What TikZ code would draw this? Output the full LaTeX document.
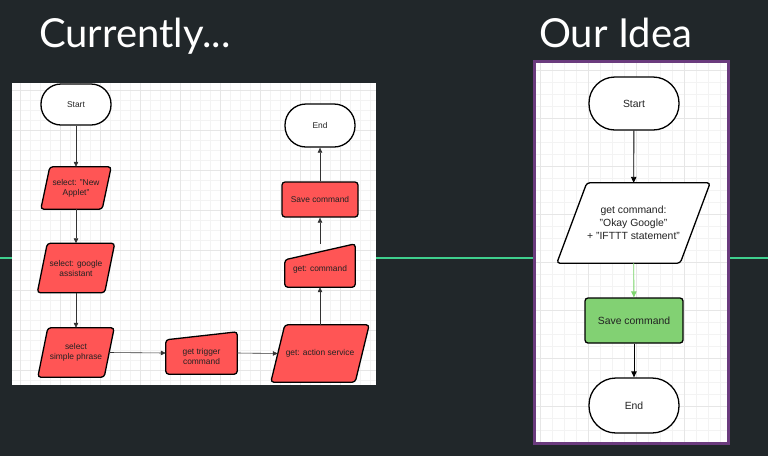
\documentclass[tikz,border=0pt]{standalone}
\usepackage{fontspec}
\setmainfont{Liberation Sans}
\newfontfamily\titlefont{Lato}
\usetikzlibrary{calc,arrows.meta}
\definecolor{bgdark}{HTML}{21272A}
\definecolor{mint}{HTML}{3FCF8E}
\definecolor{frame}{HTML}{6B3B7E}
\definecolor{redfill}{HTML}{FF5555}
\definecolor{greenfill}{HTML}{82D173}
\definecolor{greenarrow}{HTML}{7FD66F}
\definecolor{gridminor}{HTML}{F3F3F3}
\definecolor{gridmajor}{HTML}{E6E6E6}
\definecolor{txt}{HTML}{222222}
\tikzset{
  box/.style={draw=none,inner sep=0pt,align=center,text=txt,font=\fontsize{8.4}{10}\selectfont},
  bigbox/.style={box,font=\fontsize{10.4}{13}\selectfont},
  outline/.style={draw=black,line width=1.3pt,rounded corners=3pt},
  conn/.style={draw=black!80,line width=0.6pt,-{Triangle[length=5pt,width=4.5pt]}},
  bigconn/.style={draw=black,line width=0.9pt,-{Triangle[length=6pt,width=5.5pt]}},
  title/.style={text=white,font=\titlefont\fontsize{40}{40}\selectfont,anchor=base west,inner sep=0pt},
  gminor/.style={draw=gridminor,line width=0.5pt},
  gmajor/.style={draw=gridmajor,line width=0.5pt},
}
\begin{document}
\begin{tikzpicture}[x=1pt,y=-1pt]
\fill[bgdark] (0,0) rectangle (768,456);
\useasboundingbox (0,0) rectangle (768,456);
% horizontal mint line
\draw[mint,line width=1.6pt] (0,258) -- (768,258);
% titles
\node[title] (t1) at (39,47) {Currently...};
\node[title] (t2) at (539,47) {Our Idea};
% left panel
\fill[white] (12,83) rectangle (376,385);
\foreach \x in {20,30,...,370} {\draw[gminor] (\x,83) -- (\x,385);}
\foreach \y in {90,100,...,380} {\draw[gminor] (12,\y) -- (376,\y);}
\foreach \x in {20,60,...,370} {\draw[gmajor] (\x,83) -- (\x,385);}
\foreach \y in {90,130,...,380} {\draw[gmajor] (12,\y) -- (376,\y);}
% right panel
\fill[white] (534,61) rectangle (728,443);
\foreach \x in {540,552,...,726} {\draw[gminor] (\x,61) -- (\x,443);}
\foreach \y in {70,82,...,440} {\draw[gminor] (534,\y) -- (728,\y);}
\foreach \x in {540,588,...,726} {\draw[gmajor] (\x,61) -- (\x,443);}
\foreach \y in {70,118,...,440} {\draw[gmajor] (534,\y) -- (728,\y);}
\draw[frame,line width=3pt] (534,61) rectangle (728,443);

% ---------- left flowchart ----------
\node[box,minimum width=70pt,minimum height=41pt,draw=black,line width=1.3pt,rounded corners=20pt,fill=white] (ls) at (76,104.5) {Start};
\node[box,minimum width=70pt,minimum height=42pt] (la) at (76,188) {};
\fill[redfill,outline] (la.south west) -- ($(la.south east)+(-9,0)$) -- (la.north east) -- ($(la.north west)+(9,0)$) -- cycle;
\node[box] at (la) {select: "New\\Applet"};
\node[box,minimum width=77pt,minimum height=49pt] (lg) at (76,268) {};
\fill[redfill,outline] (lg.south west) -- ($(lg.south east)+(-10,0)$) -- (lg.north east) -- ($(lg.north west)+(10,0)$) -- cycle;
\node[box] at (lg) {select: google\\assistant};
\node[box,minimum width=76pt,minimum height=49pt] (lp) at (76,352.5) {};
\fill[redfill,outline] (lp.south west) -- ($(lp.south east)+(-10,0)$) -- (lp.north east) -- ($(lp.north west)+(10,0)$) -- cycle;
\node[box] at (lp) {select\\simple phrase};
\node[box,minimum width=71pt,minimum height=42pt] (lt) at (201.5,353) {};
\fill[redfill,outline] (lt.south west) -- (lt.south east) -- (lt.north east) -- ($(lt.north west)+(0,8)$) -- cycle;
\node[box] at ($(lt)+(0,3)$) {get trigger\\command};
\node[box,minimum width=98pt,minimum height=57pt] (lv) at (320,353.5) {};
\fill[redfill,outline] (lv.south west) -- ($(lv.south east)+(-14,0)$) -- (lv.north east) -- ($(lv.north west)+(14,0)$) -- cycle;
\node[box] at (lv) {get: action service};
\node[box,minimum width=70pt,minimum height=43pt] (lc) at (320,265.5) {};
\fill[redfill,outline] (lc.south west) -- (lc.south east) -- (lc.north east) -- ($(lc.north west)+(0,16)$) -- cycle;
\node[box] at ($(lc)+(0,4)$) {get: command};
\node[box,minimum width=76pt,minimum height=35pt,fill=redfill,outline] (lsv) at (320,199.5) {Save command};
\node[box,minimum width=70pt,minimum height=43pt,draw=black,line width=1.3pt,rounded corners=21pt,fill=white] (le) at (320,125.5) {End};
\draw[conn] (ls) -- (la);
\draw[conn] (la) -- (lg);
\draw[conn] (lg) -- (lp);
\draw[conn] ($(lp.east)+(-5,0)$) -- (lt.west);
\draw[conn] (lt.east) -- ($(lv.west)+(7,0)$);
\draw[conn] (lv) -- (lc);
\draw[conn] (lc) -- (lsv);
\draw[conn] (lsv) -- (le);

% ---------- right flowchart ----------
\node[bigbox,minimum width=90pt,minimum height=53pt,draw=black,line width=1.3pt,rounded corners=26pt,fill=white] (rs) at (634,103.5) {Start};
\node[bigbox,minimum width=153pt,minimum height=80pt] (rg) at (633.5,223) {};
\fill[white,outline] (rg.south west) -- ($(rg.south east)+(-30,0)$) -- (rg.north east) -- ($(rg.north west)+(30,0)$) -- cycle;
\node[bigbox] at (rg) {get command:\\"Okay Google"\\+ "IFTTT statement"};
\node[bigbox,minimum width=98pt,minimum height=45pt,fill=greenfill,outline] (rsv) at (634,320.5) {Save command};
\node[bigbox,minimum width=90pt,minimum height=55pt,draw=black,line width=1.3pt,rounded corners=27pt,fill=white] (re) at (634,405.5) {End};
\draw[bigconn] (rs) -- (rg);
\draw[bigconn,draw=greenarrow,fill=greenarrow] (rg) -- (rsv);
\draw[bigconn] (rsv) -- (re);
\end{tikzpicture}
\end{document}
